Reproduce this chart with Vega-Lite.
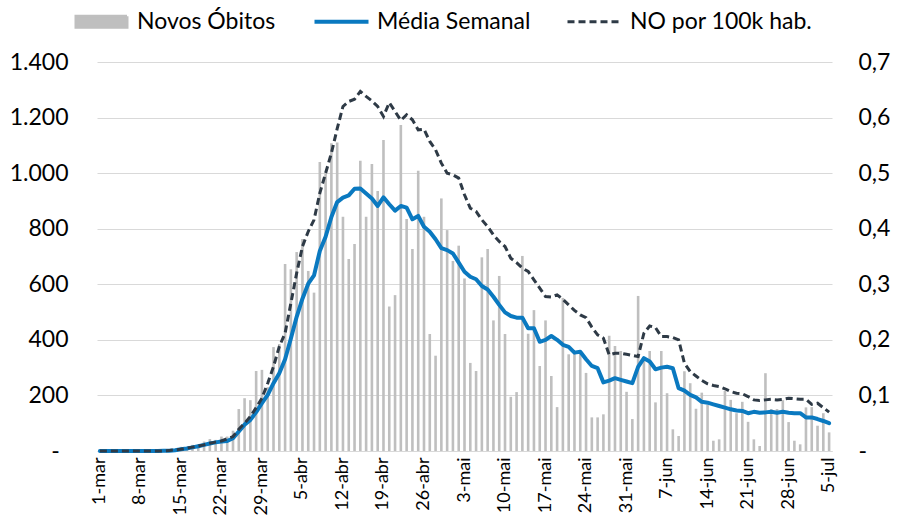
{
  "$schema": "https://vega.github.io/schema/vega-lite/v6.json",
  "width": 735,
  "height": 389,
  "autosize": {"type": "none"},
  "padding": {"left": 97, "top": 62, "right": 67, "bottom": 67},
  "background": "white",
  "config": {
    "font": "Lato",
    "view": {"stroke": null},
    "axis": {"labelFont": "Lato", "labelColor": "#000000"}
  },
  "data": {"values": [
{"d":"1-mar","novos":0,"media":0,"p":0},{"d":"2-mar","novos":0,"media":0,"p":0},{"d":"3-mar","novos":0,"media":0,"p":0},{"d":"4-mar","novos":0,"media":0,"p":0},{"d":"5-mar","novos":0,"media":0,"p":0},{"d":"6-mar","novos":0,"media":0,"p":0},{"d":"7-mar","novos":0,"media":0,"p":0},{"d":"8-mar","novos":0,"media":0,"p":0},{"d":"9-mar","novos":0,"media":0,"p":0},{"d":"10-mar","novos":0,"media":0,"p":0},{"d":"11-mar","novos":0,"media":0,"p":0},
{"d":"12-mar","novos":1,"media":1,"p":0},{"d":"13-mar","novos":2,"media":1,"p":0.001},{"d":"14-mar","novos":3,"media":3,"p":0.002},{"d":"15-mar","novos":15,"media":6,"p":0.003},{"d":"16-mar","novos":10,"media":9,"p":0.005},{"d":"17-mar","novos":22,"media":13,"p":0.007},{"d":"18-mar","novos":25,"media":17,"p":0.009},{"d":"19-mar","novos":34,"media":22,"p":0.011},{"d":"20-mar","novos":43,"media":27,"p":0.014},{"d":"21-mar","novos":40,"media":31,"p":0.016},
{"d":"22-mar","novos":52,"media":34,"p":0.018},{"d":"23-mar","novos":52,"media":36,"p":0.022},{"d":"24-mar","novos":73,"media":46,"p":0.026},{"d":"25-mar","novos":151,"media":70,"p":0.039},{"d":"26-mar","novos":190,"media":95,"p":0.05},{"d":"27-mar","novos":183,"media":112,"p":0.062},{"d":"28-mar","novos":288,"media":140,"p":0.078},{"d":"29-mar","novos":292,"media":172,"p":0.095},{"d":"30-mar","novos":230,"media":202,"p":0.122},{"d":"31-mar","novos":374,"media":244,"p":0.152},
{"d":"1-abr","novos":385,"media":280,"p":0.188},{"d":"2-abr","novos":673,"media":330,"p":0.212},{"d":"3-abr","novos":654,"media":405,"p":0.266},{"d":"4-abr","novos":716,"media":483,"p":0.32},{"d":"5-abr","novos":763,"media":548,"p":0.368},{"d":"6-abr","novos":648,"media":602,"p":0.395},{"d":"7-abr","novos":570,"media":632,"p":0.416},{"d":"8-abr","novos":1040,"media":720,"p":0.464},{"d":"9-abr","novos":1000,"media":771,"p":0.5},{"d":"10-abr","novos":1108,"media":842,"p":0.536},
{"d":"11-abr","novos":1110,"media":896,"p":0.58},{"d":"12-abr","novos":843,"media":912,"p":0.62},{"d":"13-abr","novos":691,"media":920,"p":0.629},{"d":"14-abr","novos":745,"media":944,"p":0.633},{"d":"15-abr","novos":1045,"media":945,"p":0.647},{"d":"16-abr","novos":843,"media":927,"p":0.638},{"d":"17-abr","novos":1033,"media":909,"p":0.63},{"d":"18-abr","novos":936,"media":882,"p":0.62},{"d":"19-abr","novos":1119,"media":913,"p":0.602},{"d":"20-abr","novos":520,"media":888,"p":0.627},
{"d":"21-abr","novos":561,"media":865,"p":0.611},{"d":"22-abr","novos":1173,"media":882,"p":0.595},{"d":"23-abr","novos":835,"media":876,"p":0.605},{"d":"24-abr","novos":727,"media":834,"p":0.596},{"d":"25-abr","novos":1009,"media":846,"p":0.578},{"d":"26-abr","novos":843,"media":807,"p":0.579},{"d":"27-abr","novos":421,"media":789,"p":0.557},{"d":"28-abr","novos":343,"media":762,"p":0.542},{"d":"29-abr","novos":909,"media":730,"p":0.518},{"d":"30-abr","novos":795,"media":723,"p":0.5},
{"d":"1-mai","novos":684,"media":711,"p":0.497},{"d":"2-mai","novos":739,"media":678,"p":0.491},{"d":"3-mai","novos":621,"media":645,"p":0.461},{"d":"4-mai","novos":317,"media":627,"p":0.437},{"d":"5-mai","novos":288,"media":618,"p":0.431},{"d":"6-mai","novos":697,"media":594,"p":0.416},{"d":"7-mai","novos":727,"media":581,"p":0.404},{"d":"8-mai","novos":470,"media":555,"p":0.389},{"d":"9-mai","novos":630,"media":526,"p":0.377},{"d":"10-mai","novos":421,"media":499,"p":0.368},
{"d":"11-mai","novos":195,"media":486,"p":0.347},{"d":"12-mai","novos":212,"media":480,"p":0.339},{"d":"13-mai","novos":702,"media":480,"p":0.329},{"d":"14-mai","novos":422,"media":442,"p":0.323},{"d":"15-mai","novos":507,"media":442,"p":0.308},{"d":"16-mai","novos":306,"media":393,"p":0.293},{"d":"17-mai","novos":470,"media":400,"p":0.278},{"d":"18-mai","novos":270,"media":414,"p":0.277},{"d":"19-mai","novos":158,"media":400,"p":0.281},{"d":"20-mai","novos":551,"media":382,"p":0.273},
{"d":"21-mai","novos":348,"media":375,"p":0.263},{"d":"22-mai","novos":357,"media":354,"p":0.253},{"d":"23-mai","novos":360,"media":357,"p":0.245},{"d":"24-mai","novos":281,"media":330,"p":0.24},{"d":"25-mai","novos":121,"media":306,"p":0.223},{"d":"26-mai","novos":121,"media":298,"p":0.209},{"d":"27-mai","novos":132,"media":247,"p":0.203},{"d":"28-mai","novos":415,"media":253,"p":0.173},{"d":"29-mai","novos":378,"media":262,"p":0.176},{"d":"30-mai","novos":360,"media":256,"p":0.176},{"d":"31-mai","novos":213,"media":250,"p":0.174},
{"d":"1-jun","novos":115,"media":244,"p":0.172},{"d":"2-jun","novos":558,"media":303,"p":0.17},{"d":"3-jun","novos":331,"media":334,"p":0.212},{"d":"4-jun","novos":360,"media":322,"p":0.225},{"d":"5-jun","novos":175,"media":294,"p":0.222},{"d":"6-jun","novos":360,"media":300,"p":0.206},{"d":"7-jun","novos":208,"media":303,"p":0.206},{"d":"8-jun","novos":78,"media":298,"p":0.204},{"d":"9-jun","novos":54,"media":226,"p":0.2},{"d":"10-jun","novos":287,"media":217,"p":0.158},
{"d":"11-jun","novos":244,"media":202,"p":0.143},{"d":"12-jun","novos":152,"media":193,"p":0.135},{"d":"13-jun","novos":210,"media":177,"p":0.127},{"d":"14-jun","novos":166,"media":174,"p":0.121},{"d":"15-jun","novos":37,"media":168,"p":0.118},{"d":"16-jun","novos":42,"media":162,"p":0.116},{"d":"17-jun","novos":216,"media":156,"p":0.112},{"d":"18-jun","novos":184,"media":150,"p":0.107},{"d":"19-jun","novos":136,"media":146,"p":0.104},{"d":"20-jun","novos":177,"media":144,"p":0.103},
{"d":"21-jun","novos":105,"media":136,"p":0.098},{"d":"22-jun","novos":42,"media":141,"p":0.092},{"d":"23-jun","novos":18,"media":138,"p":0.091},{"d":"24-jun","novos":280,"media":139,"p":0.092},{"d":"25-jun","novos":151,"media":141,"p":0.093},{"d":"26-jun","novos":151,"media":138,"p":0.092},{"d":"27-jun","novos":183,"media":141,"p":0.093},{"d":"28-jun","novos":104,"media":138,"p":0.095},{"d":"29-jun","novos":37,"media":136,"p":0.094},{"d":"30-jun","novos":24,"media":136,"p":0.093},
{"d":"1-jul","novos":157,"media":121,"p":0.093},{"d":"2-jul","novos":158,"media":121,"p":0.084},{"d":"3-jul","novos":91,"media":115,"p":0.086},{"d":"4-jul","novos":136,"media":108,"p":0.078},{"d":"5-jul","novos":67,"media":100,"p":0.07}
  ]},
  "encoding": {
    "x": {
      "field": "d", "type": "ordinal", "sort": null,
      "scale": {"paddingInner": 0, "paddingOuter": 0},
      "axis": {
        "title": null,
        "values": ["1-mar","8-mar","15-mar","22-mar","29-mar","5-abr","12-abr","19-abr","26-abr","3-mai","10-mai","17-mai","24-mai","31-mai","7-jun","14-jun","21-jun","28-jun","5-jul"],
        "labelAngle": -90,
        "labelFontSize": 18,
        "labelPadding": 6,
        "labelOverlap": false,
        "ticks": false,
        "domainColor": "#D9D9D9",
        "domainWidth": 1,
        "grid": false
      }
    }
  },
  "layer": [
    {
      "mark": {"type": "bar", "width": {"band": 0.45}},
      "encoding": {
        "y": {
          "field": "novos", "type": "quantitative",
          "scale": {"domain": [0, 1400], "nice": false},
          "axis": {
            "title": null, "values": [0,200,400,600,800,1000,1200,1400],
            "labelExpr": "datum.value == 0 ? '-\u00a0\u2009\u200b' : replace(format(datum.value, ','), ',', '.')",
            "labelFontSize": 23, "labelPadding": 29, "ticks": false, "domain": false,
            "gridColor": "#D9D9D9", "gridWidth": 1
          }
        },
        "color": {
          "datum": "Novos Óbitos", "type": "nominal",
          "scale": {"domain": ["Novos Óbitos", "Média Semanal", "NO por 100k hab."], "range": ["#BFBFBF", "#0A79C0", "#2E3A46"]},
          "legend": {
            "title": null, "orient": "none", "direction": "horizontal",
            "legendX": -7, "legendY": -52,
            "labelFontSize": 23, "labelFont": "Lato", "labelColor": "#000000", "labelLimit": 400,
            "symbolSize": 3600, "columnPadding": 30, "labelOffset": 24,
            "encode": {"symbols": {"update": {
              "shape": {"signal": "datum.value === 'Novos Óbitos' ? 'M-0.85,-0.18H0.85V0.18H-0.85Z' : 'M-0.9,0H0.9'"},
              "fill": {"signal": "datum.value === 'Novos Óbitos' ? '#BFBFBF' : 'transparent'"},
              "stroke": {"signal": "datum.value === 'Média Semanal' ? '#0A79C0' : (datum.value === 'NO por 100k hab.' ? '#2E3A46' : 'transparent')"},
              "strokeDash": {"signal": "datum.value === 'NO por 100k hab.' ? [7, 4] : [1, 0]"},
              "strokeWidth": {"signal": "datum.value === 'Média Semanal' ? 4 : 3"},
              "opacity": {"value": 1}
            }}}
          }
        }
      }
    },
    {
      "mark": {"type": "line", "strokeWidth": 4, "strokeCap": "round", "strokeJoin": "round"},
      "encoding": {
        "y": {"field": "media", "type": "quantitative", "scale": {"domain": [0, 1400], "nice": false}, "axis": null},
        "color": {"datum": "Média Semanal", "type": "nominal"}
      }
    },
    {
      "mark": {"type": "line", "strokeWidth": 3, "strokeDash": [7, 4]},
      "encoding": {
        "y": {
          "field": "p", "type": "quantitative",
          "scale": {"domain": [0, 0.7], "nice": false},
          "axis": {
            "title": null, "orient": "right", "values": [0,0.1,0.2,0.3,0.4,0.5,0.6,0.7],
            "labelExpr": "datum.value == 0 ? '-' : replace(format(datum.value, '.1f'), '.', ',')",
            "labelFontSize": 23, "labelPadding": 26, "ticks": false, "domain": false, "grid": false
          }
        },
        "color": {"datum": "NO por 100k hab.", "type": "nominal"}
      }
    }
  ],
  "resolve": {"scale": {"y": "independent"}}
}
